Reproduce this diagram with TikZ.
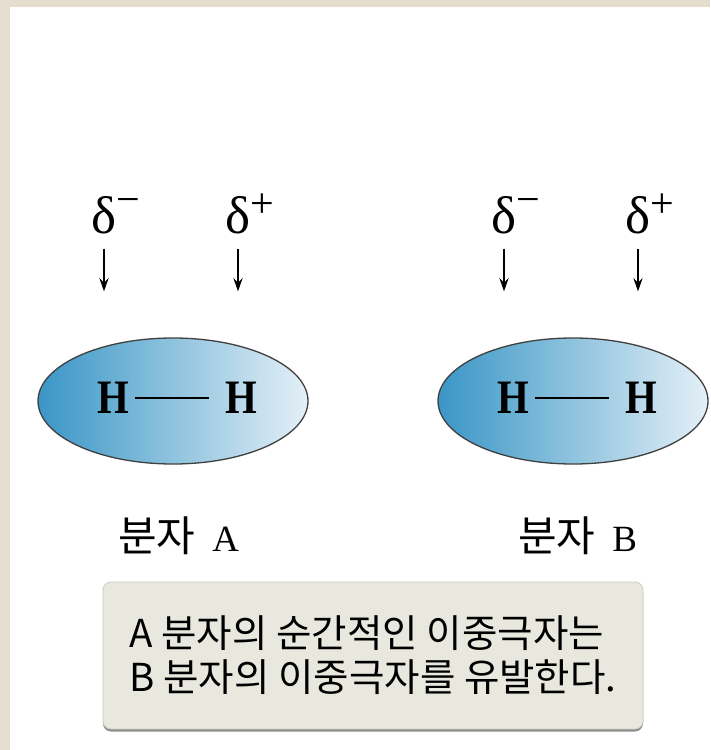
\documentclass[tikz,border=0pt]{standalone}
\usepackage{fontspec}
\setmainfont{Liberation Serif}
\newfontfamily\kr{Noto Sans CJK KR}
\newfontfamily\atomfont[FakeStretch=0.85]{Liberation Serif}
\usetikzlibrary{arrows.meta,shapes.geometric,shadows}
\definecolor{pagebeige}{RGB}{229,221,206}
\definecolor{molblue}{RGB}{58,150,198}
\definecolor{molpale}{RGB}{228,240,247}
\definecolor{notefill}{RGB}{233,232,223}
\definecolor{noteline}{RGB}{204,204,194}

\begin{document}
\begin{tikzpicture}[
    x=1pt, y=-1pt,
    molecule/.style={ellipse, draw=black!75, line width=1.3pt, inner sep=0pt,
                     minimum width=270pt, minimum height=126pt,
                     left color=molblue, right color=molpale},
    atom/.style={inner sep=0pt, font=\atomfont\bfseries\fontsize{48}{48}\selectfont},
    bond/.style={line width=2.6pt, shorten <=6pt, shorten >=16pt},
    charge/.style={inner sep=0pt, anchor=base, font=\fontsize{53}{53}\selectfont},
    pointer/.style={-{Stealth[length=13pt,width=9pt]}, line width=2.2pt,
                    shorten <=15pt, shorten >=46pt},
    caption/.style={inner sep=0pt, anchor=base west, font=\fontsize{37}{37}\selectfont},
    notebox/.style={rounded corners=8pt, fill=notefill, draw=noteline, line width=0.8pt,
                    minimum width=540pt, minimum height=147pt, align=left,
                    font=\kr\fontsize{38.5}{44}\selectfont,
                    drop shadow={shadow xshift=0pt, shadow yshift=-2.5pt,
                                 shadow scale=1, fill=black!45, opacity=1}}
]
\useasboundingbox (0,0) rectangle (710,750);
% page edge
\fill[pagebeige] (0,0) rectangle (710,750);
\fill[white] (10,7) rectangle (710,750);

% molecule A
\node[molecule] (molA) at (173,401) {};
\node[atom] (hA1) at (113,398) {H};
\node[atom] (hA2) at (241,398) {H};
\draw[bond] (hA1.east) -- (hA2.west);
\node[charge] (dA1) at (104,233) {δ\rlap{\raisebox{20pt}{\fontsize{42}{42}\selectfont −}}};
\node[charge] (dA2) at (238,233) {δ\rlap{\raisebox{16pt}{\fontsize{42}{42}\selectfont +}}};
\draw[pointer] (dA1.south) -- (dA1.south |- molA.north);
\draw[pointer] (dA2.south) -- (dA2.south |- molA.north);
\node[caption] (capA) at (118,551) {{\kr\fontsize{42}{42}\selectfont 분자}\hspace{17pt}A};

% molecule B
\node[molecule] (molB) at (573,401) {};
\node[atom] (hB1) at (513,398) {H};
\node[atom] (hB2) at (641,398) {H};
\draw[bond] (hB1.east) -- (hB2.west);
\node[charge] (dB1) at (504,233) {δ\rlap{\raisebox{20pt}{\fontsize{42}{42}\selectfont −}}};
\node[charge] (dB2) at (638,233) {δ\rlap{\raisebox{16pt}{\fontsize{42}{42}\selectfont +}}};
\draw[pointer] (dB1.south) -- (dB1.south |- molB.north);
\draw[pointer] (dB2.south) -- (dB2.south |- molB.north);
\node[caption] (capB) at (518,551) {{\kr\fontsize{42}{42}\selectfont 분자}\hspace{17pt}B};

% note
\node[notebox] (note) at (373,655.5) {A 분자의 순간적인 이중극자는\\B 분자의 이중극자를 유발한다.};
\end{tikzpicture}
\end{document}
